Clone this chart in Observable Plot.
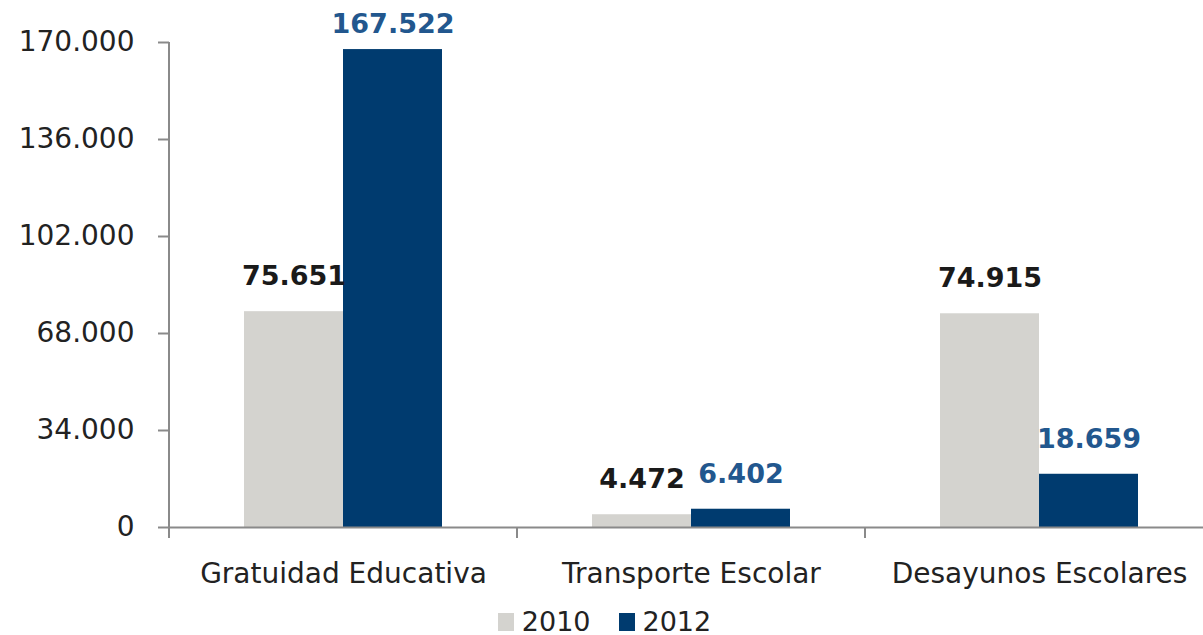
<!DOCTYPE html>
<html><head><meta charset="utf-8">
<script src="https://cdn.jsdelivr.net/npm/d3@7"></script>
<script src="https://cdn.jsdelivr.net/npm/@observablehq/plot@0.6"></script>
<style>
html,body{margin:0;padding:0;background:#fff;font-family:"DejaVu Sans",sans-serif;}
#chart{position:relative;width:1203px;height:600px;}
#legend{display:flex;justify-content:center;align-items:center;gap:0;font-size:27px;color:#222;line-height:35px;margin-top:4px;padding-left:6px;}
#legend .item{display:flex;align-items:center;margin:0 14px;}
#legend .sw{display:inline-block;width:16px;height:18px;margin-right:8px;}
</style></head>
<body><div id="chart"></div><div id="legend"></div>
<script>
const categories = ["Gratuidad Educativa", "Transporte Escolar", "Desayunos Escolares"];
const years = ["2010", "2012"];
const values2010 = [75651, 4472, 74915];
const values2012 = [167522, 6402, 18659];
const yTicks = [0, 34000, 68000, 102000, 136000, 170000];
const barColors = ["#d4d3cf", "#003b6f"];
const labelColors = ["#1a1a1a", "#22578e"];

const data = categories.flatMap((c, i) => [
  {category: c, year: years[0], value: values2010[i]},
  {category: c, year: years[1], value: values2012[i]}
]);
const fmt = d3.formatLocale({decimal: ",", thousands: ".", grouping: [3], currency: ["", ""]}).format(",");

const labelMarks = years.flatMap((yr, k) => [
  Plot.text(data.filter(d => d.year === yr && d.value < 160000), {
    fx: "category", x: "year", y: "value", text: d => fmt(d.value),
    dy: -35, fill: labelColors[k], fontWeight: "bold", fontSize: 27
  }),
  Plot.text(data.filter(d => d.year === yr && d.value >= 160000), {
    fx: "category", x: "year", y: "value", text: d => fmt(d.value),
    dy: -25, fill: labelColors[k], fontWeight: "bold", fontSize: 27
  })
]);

const chart = Plot.plot({
  width: 1203, height: 600,
  marginLeft: 168, marginRight: -10, marginTop: 42, marginBottom: 73,
  style: {fontFamily: "DejaVu Sans", fontSize: "28px", color: "#222", background: "#fff", overflow: "visible"},
  fx: {domain: categories, padding: 0, label: null},
  x: {domain: years, paddingInner: 0, paddingOuter: 0.754, axis: null},
  y: {domain: [0, 170000], label: null},
  color: {domain: years, range: barColors},
  marks: [
    Plot.barY(data, {fx: "category", x: "year", y: "value", fill: "year"}),
    Plot.ruleY([0], {stroke: "#8a8a8a", strokeWidth: 2}),
    Plot.axisY({ticks: yTicks, tickFormat: fmt, tickSize: 11, tickPadding: 24, stroke: "#8a8a8a", strokeWidth: 2, fill: "#222", fontSize: 28, label: null}),
    Plot.axisFx({anchor: "bottom", tickSize: 0, tickPadding: 36, fill: "#222", fontSize: 28, label: null}),
    ...labelMarks
  ]
});
document.getElementById("chart").appendChild(chart);

// axis line and category separator ticks from the library's scales
const ys = chart.scale("y");
const fxs = chart.scale("fx");
const svg = d3.select(chart);
const y0 = ys.apply(0), yTop = ys.apply(170000);
const g = svg.append("g").attr("stroke", "#8a8a8a").attr("stroke-width", 2);
const left = fxs.apply(categories[0]);
g.append("line").attr("x1", left).attr("x2", left).attr("y1", yTop).attr("y2", y0 + 11);
categories.forEach(c => {
  const xb = fxs.apply(c);
  g.append("line").attr("x1", xb).attr("x2", xb).attr("y1", y0).attr("y2", y0 + 11);
});

const legend = document.getElementById("legend");
years.forEach((yr, k) => {
  const it = document.createElement("span");
  it.className = "item";
  it.innerHTML = `<span class="sw" style="background:${barColors[k]}"></span><span>${yr}</span>`;
  legend.appendChild(it);
});
</script></body></html>
